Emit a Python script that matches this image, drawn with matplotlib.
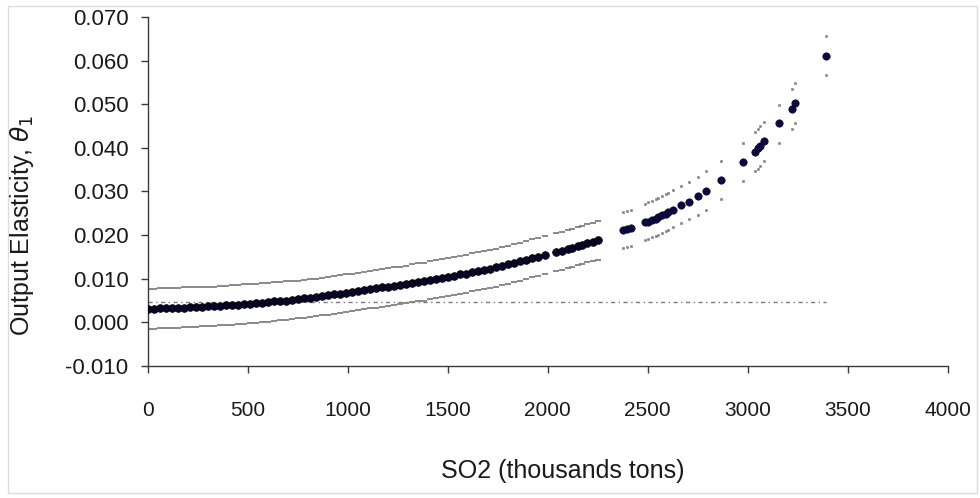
import matplotlib
matplotlib.use("Agg")
import matplotlib.pyplot as plt
import numpy as np
from matplotlib.patches import Rectangle

# SO2 emissions (thousand tons) and estimated output elasticity
so2 = [0, 30, 60, 90, 120, 150, 180, 210, 240, 270,
       300, 330, 360, 390, 420, 450, 480, 510, 540, 570,
       600, 630, 660, 690, 720, 750, 780, 810, 840, 870,
       900, 930, 960, 990, 1020, 1050, 1080, 1110, 1140, 1170,
       1200, 1230, 1260, 1290, 1320, 1350, 1380, 1410, 1440, 1470,
       1500, 1530, 1560, 1590, 1620, 1650, 1680, 1710, 1740, 1770,
       1800, 1830, 1860, 1890, 1920, 1950, 1985, 2040, 2070, 2100,
       2120, 2150, 2170, 2195, 2225, 2250,
       2377, 2395, 2415, 2485, 2500, 2520, 2540, 2552, 2570, 2590,
       2602, 2626, 2667, 2706, 2750, 2792, 2867, 2975, 3036, 3049,
       3060, 3083, 3157, 3219, 3237, 3390]

elasticity = [.0031, .0031, .0032, .0032, .0033, .0033, .0034, .0035, .0035, .0036,
              .0037, .0037, .0038, .0039, .0040, .0041, .0042, .0043, .0044, .0045,
              .0046, .0048, .0049, .0050, .0052, .0053, .0055, .0056, .0058, .0060,
              .0062, .0064, .0066, .0068, .0070, .0072, .0074, .0076, .0078, .0080,
              .0082, .0084, .0086, .0088, .0090, .0092, .0094, .0097, .0099, .0102,
              .0105, .0107, .0110, .0112, .0115, .0118, .0120, .0123, .0126, .0129,
              .0133, .0136, .0140, .0143, .0147, .0151, .0154, .0161, .0164, .0168,
              .0171, .0175, .0178, .0182, .0185, .0188,
              .0211, .0213, .0216, .0229, .0231, .0234, .0238, .0241, .0245, .0249,
              .0252, .0258, .0268, .0277, .0290, .0302, .0327, .0368, .0391, .0399,
              .0405, .0415, .0456, .0488, .0503, .0611]

upper = [.0077, .0077, .0078, .0078, .0079, .0079, .0080, .0080, .0081, .0081,
         .0082, .0082, .0083, .0084, .0085, .0086, .0087, .0088, .0089, .0090,
         .0091, .0092, .0093, .0094, .0095, .0096, .0097, .0099, .0100, .0102,
         .0104, .0106, .0108, .0110, .0112, .0114, .0116, .0118, .0120, .0122,
         .0124, .0126, .0128, .0130, .0133, .0135, .0137, .0140, .0142, .0145,
         .0148, .0150, .0153, .0155, .0158, .0161, .0163, .0166, .0169, .0172,
         .0176, .0179, .0182, .0186, .0190, .0194, .0197, .0204, .0207, .0211,
         .0214, .0218, .0221, .0225, .0228, .0232,
         .0252, .0255, .0258, .0272, .0275, .0279, .0283, .0286, .0290, .0294,
         .0297, .0303, .0313, .0321, .0334, .0347, .0370, .0412, .0437, .0443,
         .0449, .0459, .0499, .0534, .0549, .0657]

lower = [-.0014, -.0014, -.0013, -.0013, -.0012, -.0012, -.0011, -.0010, -.0010, -.0009,
         -.0008, -.0008, -.0007, -.0006, -.0005, -.0004, -.0003, -.0002, -.0001, .0000,
         .0002, .0003, .0005, .0006, .0008, .0009, .0011, .0012, .0014, .0016,
         .0018, .0020, .0022, .0024, .0026, .0028, .0030, .0032, .0034, .0036,
         .0038, .0040, .0042, .0044, .0046, .0048, .0050, .0053, .0055, .0058,
         .0061, .0063, .0066, .0068, .0071, .0074, .0076, .0079, .0082, .0085,
         .0089, .0092, .0096, .0099, .0103, .0107, .0110, .0117, .0120, .0124,
         .0127, .0131, .0134, .0138, .0141, .0144,
         .0170, .0172, .0175, .0189, .0191, .0195, .0199, .0201, .0205, .0209,
         .0212, .0218, .0227, .0236, .0247, .0258, .0283, .0324, .0346, .0352,
         .0358, .0370, .0412, .0444, .0458, .0567]

ref_x = [0, 3390]
ref_y = [0.0046, 0.0046]

x_ticks = [0, 500, 1000, 1500, 2000, 2500, 3000, 3500, 4000]
y_ticks = [-0.010, 0.000, 0.010, 0.020, 0.030, 0.040, 0.050, 0.060, 0.070]

plt.rcParams["font.family"] = ["Liberation Sans", "DejaVu Sans"]
plt.rcParams["mathtext.fontset"] = "dejavusans"

fig = plt.figure(figsize=(9.8, 4.98), dpi=100)
ax = fig.add_axes([0.151, 0.265, 0.816, 0.701])

axis_color = "#3a3a3a"
band_color = "#808080"
dot_color = "#0a0a46"

x = np.array(so2)
y = np.array(elasticity)
dense = x < 2300

ax.plot(ref_x, ref_y, color="#7a7a7a", linewidth=1.0,
        linestyle=(0, (3, 2.5, 1, 2.5)), zorder=1)

# confidence band: nearly continuous where the data is dense, small dots elsewhere
for band in (np.array(upper), np.array(lower)):
    ax.plot(x[dense], band[dense], linestyle="none", marker="_", markersize=4.6,
            markeredgewidth=1.3, color=band_color, zorder=2)
    ax.plot(x[~dense], band[~dense], linestyle="none", marker="s", markersize=2.0,
            markeredgewidth=0.4, color=band_color, zorder=2)

# dense part reads almost black in the original, sparse dots are navy
ax.scatter(x[dense], y[dense], s=30, facecolor="#06062a", edgecolor="#000000",
           linewidths=0.6, zorder=3)
ax.scatter(x[~dense], y[~dense], s=28, facecolor=dot_color, edgecolor="#05051e",
           linewidths=0.5, zorder=3)

ax.set_xlim(0, 4000)
ax.set_ylim(-0.010, 0.070)
ax.set_xticks(x_ticks)
ax.set_yticks(y_ticks)
ax.set_yticklabels([f"{v:.3f}" for v in y_ticks])

for side in ["top", "right"]:
    ax.spines[side].set_visible(False)
for side in ["left", "bottom"]:
    ax.spines[side].set_color(axis_color)
    ax.spines[side].set_linewidth(1.0)

ax.tick_params(axis="both", direction="out", length=5, width=1.0,
               color=axis_color, labelcolor="#1a1a1a")
ax.tick_params(axis="x", labelsize=15, pad=20)
ax.tick_params(axis="y", labelsize=16, pad=9)

fig.text(563 / 980, 1 - 471 / 498, "SO2 (thousands tons)", fontsize=18,
         ha="center", va="center", color="#1a1a1a")
fig.text(22 / 980, 1 - 225 / 498, "Output Elasticity, $\\theta_1$", fontsize=18,
         ha="center", va="center", rotation=90, color="#1a1a1a")

fig.patches.append(Rectangle((8 / 980, 5 / 498), 969 / 980, 487 / 498,
                             transform=fig.transFigure, fill=False,
                             edgecolor="#dcdcdc", linewidth=1.0))

fig.savefig("out.png", dpi=100)
